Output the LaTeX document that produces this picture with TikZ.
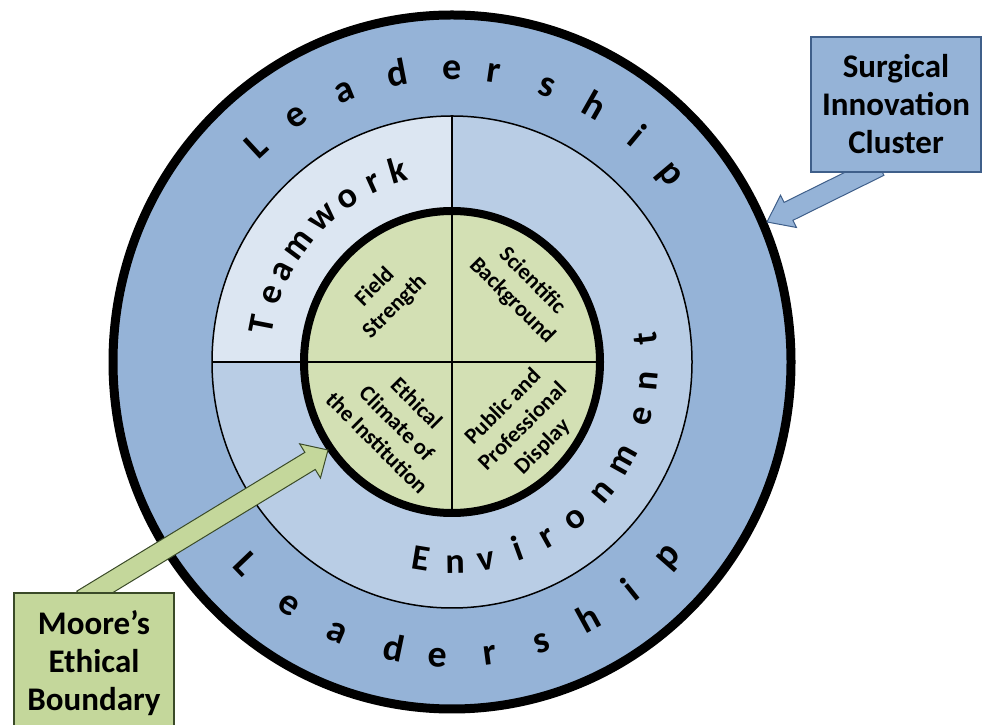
\documentclass[tikz,border=0pt]{standalone}
\usepackage{fontspec}
\setmainfont{Carlito}
\usetikzlibrary{calc}
\definecolor{outerblue}{HTML}{95B3D7}
\definecolor{midblue}{HTML}{B9CDE5}
\definecolor{paleblue}{HTML}{DCE6F2}
\definecolor{innergreen}{HTML}{D3E0B4}
\definecolor{boxgreen}{HTML}{C4D79B}
\definecolor{blueline}{HTML}{3F5F8A}
\definecolor{greenline}{HTML}{3A4A28}
\pgfdeclarelayer{ringlayer}
\pgfdeclarelayer{arrowlayer}
\pgfsetlayers{ringlayer,arrowlayer,main}
\begin{document}
\begin{tikzpicture}[x=1pt,y=1pt,
  ringletter/.style={font=\fontsize{38}{38}\selectfont\bfseries, anchor=base, inner sep=0pt},
  midletter/.style={font=\fontsize{36}{36}\selectfont\bfseries, anchor=base, inner sep=0pt},
  quadtext/.style={font=\fontsize{22.5}{28}\selectfont\bfseries, align=center, inner sep=0pt},
  calloutbox/.style={line width=1.2pt, align=center, inner sep=0pt,
    font=\fontsize{33}{38}\selectfont\bfseries},
  blockarrow/.style={line width=1pt, line join=miter}]
\useasboundingbox (0,0) rectangle (982,725);
\coordinate (C) at (452,363);

\begin{pgfonlayer}{ringlayer}
\fill[outerblue] (C) ellipse [x radius=339pt, y radius=347pt];
\fill[midblue] (C) ellipse [x radius=240pt, y radius=246pt];
\fill[paleblue] (C) -- ++(-240pt,0pt) arc[start angle=180, end angle=90, x radius=240pt, y radius=246pt] -- cycle;
\draw[line width=1.5pt] (C) ellipse [x radius=240pt, y radius=246pt];
\draw[line width=1.5pt] ($(C)+(0,151)$) -- ($(C)+(0,246)$);
\draw[line width=1.5pt] ($(C)+(-148,0)$) -- ($(C)+(-240,0)$);
\fill[innergreen] (C) ellipse [x radius=148pt, y radius=151pt];
\draw[line width=1.3pt] ($(C)+(-148,0)$) -- ($(C)+(148,0)$);
\draw[line width=1.3pt] ($(C)+(0,-151)$) -- ($(C)+(0,151)$);
\draw[line width=8pt] (C) ellipse [x radius=148pt, y radius=151pt];
\draw[line width=9pt] (C) ellipse [x radius=339pt, y radius=347pt];

\foreach \ch/\a [count=\i] in {L/132.8,e/123,a/112.2,d/101,e/90,r/81.7,s/70.7,h/60.4,i/50.2,p/40}
  \node[ringletter, rotate=\a-90] (lt\i) at ($(C)+(\a:276pt and 282pt)$) {\ch};
\foreach \ch/\a [count=\i] in {L/223.7,e/235.5,a/246.5,d/258.3,e/267.1,r/277.5,s/288.1,h/298.7,i/308.7,p/318.7}
  \node[ringletter, rotate=\a+90] (lb\i) at ($(C)+(\a:297pt and 305pt)$) {\ch};
\foreach \ch/\a [count=\i] in {T/169,e/160,a/152.4,m/143.4,w/132.5,o/123.3,r/114.3,k/106.2}
  \node[midletter, rotate=\a-90] (tw\i) at ($(C)+(\a:182pt and 187pt)$) {\ch};
\foreach \ch/\a [count=\i] in {E/260.7,n/270.9,v/279.9,i/289.9,r/299.1,o/308.7,n/319.8,m/330.9,e/344.5,n/354.7,t/366.6}
  \node[midletter, rotate=\a+90] (en\i) at ($(C)+(\a:206pt and 211pt)$) {\ch};

\node[quadtext, rotate=45] (fs) at (385,428) {Field\\Strength};
\node[quadtext, rotate=-45] (sb) at (522,434) {Scientific\\Background};
\node[quadtext, rotate=-45] (ec) at (397,302) {Ethical\\Climate of\\the Institution};
\node[quadtext, rotate=45] (pp) at (523,298) {Public and\\Professional\\Display};
\end{pgfonlayer}

\node[calloutbox, draw=blueline, fill=outerblue, minimum width=170pt, minimum height=135pt] (sic) at (896,620.5) {Surgical\\Innovation\\Cluster};
\node[calloutbox, draw=greenline, fill=boxgreen, minimum width=160pt, minimum height=140pt] (meb) at (94,62) {Moore’s\\Ethical\\Boundary};

\coordinate (bs) at ($(sic.south west)!0.33!(sic.south east)$);
\coordinate (bt) at (767,503);
\coordinate (bs0) at ($(bs)!-14pt!(bt)$);
\coordinate (bh) at ($(bt)!24pt!(bs)$);
\coordinate (gs) at (meb.north);
\coordinate (gt) at (328,275);
\coordinate (gs0) at ($(gs)!-14pt!(gt)$);
\coordinate (gh) at ($(gt)!21pt!(gs)$);

\begin{pgfonlayer}{arrowlayer}
\draw[blockarrow, draw=blueline, fill=outerblue]
  ($(bs0)!10pt!90:(bt)$) -- ($(bh)!10pt!90:(bt)$) -- ($(bh)!18pt!90:(bt)$) -- (bt)
  -- ($(bh)!18pt!-90:(bt)$) -- ($(bh)!10pt!-90:(bt)$) -- ($(bs0)!10pt!-90:(bt)$) -- cycle;
\draw[blockarrow, draw=greenline, fill=boxgreen]
  ($(gs0)!10pt!90:(gt)$) -- ($(gh)!10pt!90:(gt)$) -- ($(gh)!20pt!90:(gt)$) -- (gt)
  -- ($(gh)!20pt!-90:(gt)$) -- ($(gh)!10pt!-90:(gt)$) -- ($(gs0)!10pt!-90:(gt)$) -- cycle;
\end{pgfonlayer}
\end{tikzpicture}
\end{document}
